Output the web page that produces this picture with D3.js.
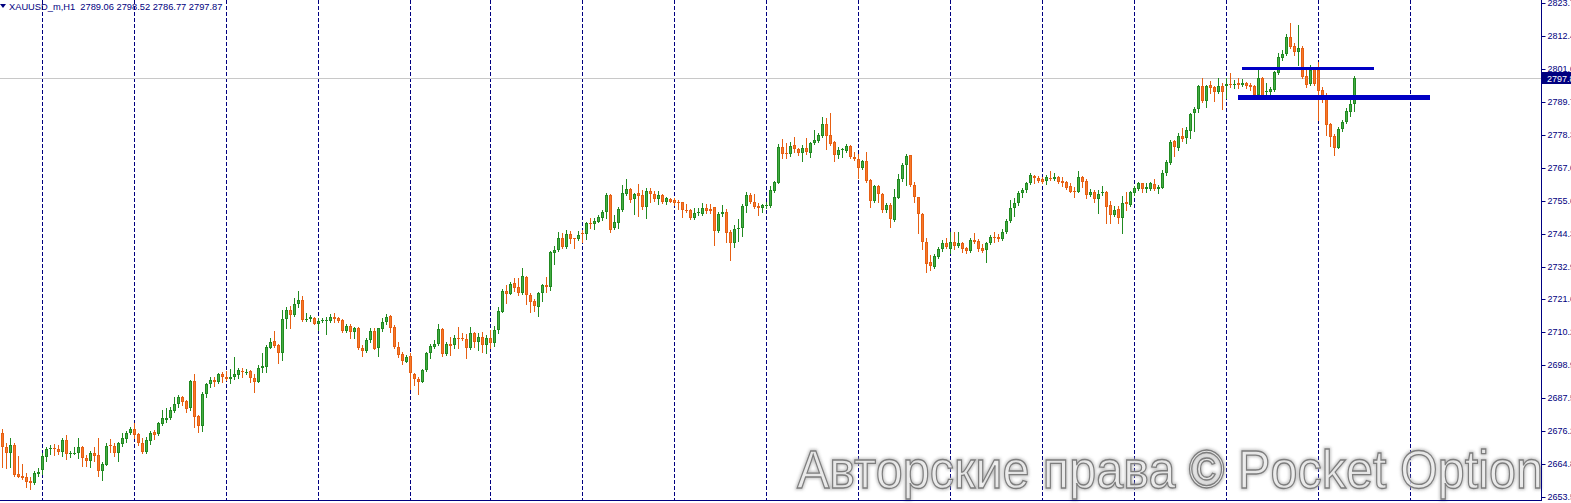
<!DOCTYPE html>
<html><head><meta charset="utf-8">
<script src="https://cdn.jsdelivr.net/npm/d3@7"></script>
<style>html,body{margin:0;padding:0;background:#fff;overflow:hidden}</style>
</head><body>
<svg id="c" width="1571" height="503" xmlns="http://www.w3.org/2000/svg"></svg>
<script>
// ---- data ----
const open = [2675.4,2670.8,2668.5,2671.4,2661.4,2660.8,2660.5,2659.0,2658.4,2661.4,
2662.8,2667.4,2670.0,2670.3,2670.0,2669.1,2673.1,2668.2,2668.5,2668.5,
2670.6,2667.0,2666.0,2668.8,2667.9,2662.5,2664.5,2671.4,2671.1,2668.5,
2671.7,2673.6,2675.7,2677.0,2675.2,2672.0,2669.1,2672.9,2676.0,2675.1,
2678.6,2680.0,2680.8,2683.2,2685.5,2688.1,2686.7,2684.0,2693.6,2681.4,
2678.0,2688.9,2692.3,2693.8,2693.2,2695.9,2695.0,2694.3,2694.7,2695.5,
2696.9,2696.3,2696.9,2694.6,2693.2,2697.8,2698.4,2705.0,2707.3,2705.9,
2703.2,2714.7,2717.9,2716.2,2719.9,2721.4,2714.6,2714.7,2715.3,2713.0,
2714.3,2714.5,2714.3,2715.4,2715.3,2714.5,2710.8,2712.4,2710.5,2711.6,
2705.0,2703.8,2707.6,2710.8,2704.7,2711.3,2713.9,2715.9,2712.0,2705.1,
2702.7,2700.1,2702.1,2695.8,2694.0,2693.2,2697.2,2703.0,2705.3,2706.1,
2711.3,2702.8,2706.4,2705.9,2708.4,2708.4,2707.9,2704.7,2709.9,2706.9,
2708.6,2705.9,2708.3,2706.6,2711.1,2717.4,2724.5,2723.6,2727.3,2725.8,
2723.7,2729.4,2723.1,2721.1,2719.1,2723.7,2726.6,2726.0,2737.7,2738.5,
2742.7,2739.7,2744.1,2742.7,2742.3,2744.4,2744.1,2747.8,2747.5,2748.4,
2749.8,2751.6,2757.6,2746.3,2748.1,2752.4,2758.0,2759.7,2756.1,2758.2,
2757.6,2753.6,2759.0,2757.9,2756.1,2757.6,2755.1,2756.1,2755.9,2755.3,
2755.1,2752.4,2752.4,2749.6,2751.3,2751.2,2753.0,2752.8,2753.4,2745.2,
2751.0,2751.6,2745.0,2740.9,2745.8,2746.1,2753.8,2757.6,2755.3,2753.8,
2753.3,2753.9,2753.9,2759.1,2761.9,2774.1,2772.0,2771.7,2774.9,2773.5,
2772.2,2773.7,2772.2,2775.4,2776.3,2778.1,2782.1,2778.3,2775.8,2771.4,
2773.1,2772.9,2774.5,2770.8,2770.0,2767.1,2769.4,2762.8,2755.6,2760.7,
2758.0,2752.4,2754.2,2749.0,2756.7,2763.0,2768.0,2771.4,2761.1,2756.8,
2751.1,2741.3,2734.4,2732.9,2736.3,2738.9,2740.9,2738.9,2741.3,2740.1,
2740.9,2739.2,2738.3,2742.1,2741.8,2739.5,2738.6,2740.9,2743.2,2743.0,
2742.3,2745.0,2748.7,2753.0,2754.8,2758.2,2759.4,2761.7,2764.3,2763.6,
2763.1,2762.5,2763.4,2763.1,2764.0,2762.6,2762.0,2760.8,2759.1,2758.8,
2764.0,2762.6,2757.6,2758.8,2756.1,2758.2,2758.8,2754.2,2750.7,2752.7,
2749.8,2755.1,2754.2,2758.2,2759.7,2761.7,2759.7,2759.7,2761.4,2759.7,
2760.2,2765.1,2768.8,2776.3,2773.7,2778.0,2777.2,2779.8,2785.8,2787.3,
2795.2,2790.2,2795.5,2794.8,2793.0,2795.4,2795.2,2795.9,2795.6,2796.2,
2795.6,2796.2,2795.6,2795.2,2792.1,2797.9,2793.0,2793.3,2793.9,2799.8,
2805.0,2806.2,2812.3,2809.0,2807.1,2808.5,2798.7,2795.9,2801.0,2800.8,
2793.9,2792.1,2782.1,2778.0,2774.0,2780.4,2782.7,2786.4,2789.06];

const high = [2676.9,2672.0,2673.7,2672.0,2667.6,2664.8,2661.6,2660.5,2662.3,2663.4,
2668.5,2670.8,2671.4,2671.7,2671.4,2673.7,2674.8,2669.4,2670.6,2673.7,
2671.0,2667.9,2669.4,2670.8,2673.7,2665.6,2672.0,2673.3,2672.0,2672.4,
2675.4,2676.2,2677.5,2678.9,2675.6,2673.7,2674.0,2676.3,2676.6,2679.4,
2683.5,2684.0,2684.4,2688.1,2688.5,2688.4,2686.9,2693.8,2695.8,2681.7,
2689.8,2692.9,2694.7,2694.7,2696.3,2696.7,2697.0,2697.5,2701.6,2697.8,
2697.8,2697.5,2697.2,2695.8,2699.0,2703.0,2705.9,2708.2,2710.7,2706.4,
2717.9,2719.1,2719.4,2722.0,2724.5,2722.8,2716.8,2716.2,2715.6,2715.1,
2715.1,2715.6,2716.5,2717.0,2715.6,2714.8,2713.0,2713.0,2712.0,2712.0,
2705.9,2708.4,2711.6,2711.6,2711.9,2715.1,2716.5,2716.2,2712.8,2707.0,
2703.6,2702.4,2703.0,2696.1,2694.9,2697.6,2703.6,2706.4,2707.6,2713.3,
2711.6,2707.0,2708.7,2709.3,2712.2,2709.9,2709.6,2712.2,2710.5,2710.0,
2710.4,2709.3,2711.1,2712.4,2719.1,2725.2,2726.6,2727.5,2728.9,2728.9,
2732.3,2729.8,2723.7,2721.7,2724.3,2727.1,2729.4,2738.3,2740.0,2744.7,
2744.4,2745.5,2745.2,2742.9,2745.2,2745.5,2748.4,2749.6,2749.6,2750.7,
2752.4,2758.2,2758.0,2750.7,2753.6,2761.1,2763.1,2759.9,2758.2,2761.3,
2759.3,2759.9,2759.9,2759.0,2759.0,2757.9,2757.0,2756.7,2756.7,2755.9,
2755.3,2754.5,2752.8,2753.0,2753.0,2755.0,2754.5,2754.5,2753.6,2751.6,
2754.2,2752.8,2745.5,2747.3,2749.3,2754.4,2758.5,2758.4,2757.9,2754.7,
2754.5,2755.1,2760.7,2762.5,2775.1,2776.9,2775.4,2776.0,2777.7,2774.0,
2774.9,2777.4,2776.0,2780.0,2778.9,2784.4,2784.1,2785.8,2776.3,2774.3,
2774.0,2775.1,2774.9,2772.6,2771.7,2769.7,2772.3,2763.1,2761.1,2761.1,
2758.2,2754.7,2754.7,2759.7,2764.8,2768.5,2771.7,2771.4,2762.0,2757.0,
2751.3,2742.7,2736.9,2737.2,2739.8,2742.1,2742.7,2744.7,2745.0,2744.7,
2741.5,2739.8,2742.7,2744.6,2742.4,2740.6,2741.3,2743.8,2744.7,2744.1,
2745.9,2749.2,2755.9,2756.5,2759.1,2759.9,2762.2,2765.1,2764.5,2764.2,
2764.0,2764.5,2765.9,2765.1,2764.2,2763.7,2762.5,2761.7,2760.5,2765.9,
2764.2,2763.0,2759.6,2759.4,2759.4,2760.7,2759.1,2755.7,2753.8,2753.8,
2757.3,2758.5,2759.1,2760.7,2762.1,2761.9,2761.7,2762.2,2763.1,2761.1,
2766.3,2769.7,2776.6,2776.6,2779.1,2780.6,2781.2,2785.8,2788.1,2795.6,
2797.9,2795.6,2797.0,2795.2,2797.9,2796.2,2797.9,2799.6,2797.3,2797.9,
2797.6,2796.7,2796.2,2795.6,2800.8,2798.5,2796.4,2795.0,2800.4,2806.7,
2807.7,2813.2,2816.9,2810.0,2816.3,2809.0,2800.8,2802.5,2801.9,2803.6,
2794.8,2792.7,2782.6,2778.7,2781.2,2783.5,2787.5,2790.4,2798.52];

const low = [2663.7,2663.3,2663.7,2660.7,2660.2,2659.6,2657.0,2656.1,2657.9,2660.7,
2661.4,2666.0,2668.3,2667.9,2668.2,2667.7,2666.5,2667.1,2668.3,2666.8,
2664.2,2664.1,2663.9,2666.0,2660.8,2659.3,2664.5,2669.1,2667.6,2666.0,
2671.0,2672.3,2675.2,2673.7,2671.4,2668.8,2668.5,2671.7,2673.4,2674.8,
2678.3,2679.4,2680.2,2682.9,2684.6,2685.2,2682.9,2683.5,2677.7,2676.0,
2676.3,2688.1,2691.3,2691.8,2692.9,2693.0,2693.8,2692.9,2694.0,2694.6,
2694.9,2695.9,2693.2,2689.5,2693.0,2696.7,2696.7,2704.7,2705.3,2699.8,
2700.7,2711.6,2711.6,2715.9,2719.1,2714.3,2714.3,2714.2,2713.0,2711.0,
2713.7,2709.6,2713.7,2713.9,2713.7,2710.5,2710.5,2708.2,2708.2,2704.4,
2702.2,2703.3,2707.0,2704.4,2702.2,2710.8,2713.0,2710.2,2704.7,2701.9,
2699.5,2699.9,2690.7,2692.1,2688.9,2693.0,2696.9,2701.5,2704.7,2705.9,
2702.1,2702.4,2702.4,2704.7,2704.7,2707.6,2701.5,2704.5,2705.3,2704.2,
2703.5,2703.1,2704.8,2705.5,2710.0,2717.1,2720.5,2723.4,2724.5,2723.1,
2723.5,2720.2,2717.4,2717.6,2716.0,2721.1,2724.0,2724.8,2734.0,2738.3,
2739.5,2739.5,2740.9,2739.5,2742.1,2741.5,2742.4,2746.4,2745.8,2748.2,
2749.0,2749.8,2744.7,2745.9,2746.3,2752.2,2757.6,2755.3,2751.0,2750.5,
2752.8,2749.8,2755.3,2755.6,2754.4,2754.7,2754.4,2755.1,2754.2,2752.8,
2750.1,2751.9,2749.2,2749.3,2750.9,2750.9,2751.3,2751.3,2740.4,2744.7,
2750.5,2741.3,2735.2,2739.8,2741.8,2743.6,2751.9,2754.7,2753.0,2750.9,
2751.6,2753.0,2753.6,2758.5,2761.6,2770.3,2770.5,2771.2,2772.3,2771.4,
2769.5,2771.7,2770.8,2775.2,2775.8,2777.7,2773.4,2774.9,2769.5,2770.3,
2770.6,2772.6,2770.3,2769.7,2763.4,2766.6,2762.0,2753.6,2755.1,2755.3,
2751.9,2751.9,2746.5,2748.8,2756.5,2762.5,2761.1,2760.8,2755.3,2744.6,
2739.0,2731.2,2731.7,2732.3,2735.8,2738.3,2739.2,2737.5,2739.0,2739.8,
2738.1,2737.5,2738.1,2740.9,2738.3,2737.8,2734.6,2740.6,2741.5,2741.8,
2742.1,2744.4,2748.4,2750.5,2754.2,2756.8,2758.8,2761.3,2761.9,2762.0,
2761.7,2761.4,2762.8,2762.8,2761.9,2760.8,2759.7,2758.5,2757.1,2758.5,
2760.3,2756.7,2757.3,2755.1,2751.5,2757.6,2748.1,2747.9,2750.4,2748.1,
2744.4,2752.5,2753.8,2757.6,2759.4,2758.5,2758.8,2759.4,2759.4,2758.2,
2759.9,2764.5,2768.2,2771.1,2773.2,2776.4,2775.7,2777.2,2779.8,2786.4,
2789.8,2788.1,2792.7,2790.2,2792.7,2787.2,2791.0,2795.0,2794.4,2794.7,
2795.4,2794.4,2793.9,2791.6,2791.8,2791.3,2791.8,2790.6,2793.5,2799.4,
2804.2,2805.9,2808.2,2805.9,2802.5,2797.9,2795.0,2795.6,2795.6,2783.5,
2789.8,2778.3,2774.5,2771.4,2773.7,2779.8,2782.4,2784.9,2786.77];

const close = [2670.6,2668.7,2671.4,2661.0,2660.5,2660.1,2658.7,2658.4,2661.6,2662.1,
2667.6,2669.9,2670.5,2669.9,2669.1,2673.1,2668.2,2668.7,2668.7,2670.6,
2666.8,2666.0,2668.8,2667.6,2662.5,2664.8,2671.1,2671.1,2668.5,2672.0,
2673.7,2675.6,2676.8,2674.9,2672.0,2669.1,2673.1,2675.7,2674.8,2678.9,
2680.6,2680.8,2683.5,2685.5,2687.8,2686.3,2683.8,2693.6,2681.2,2678.0,
2689.0,2692.4,2693.8,2693.2,2695.9,2695.0,2694.3,2694.7,2695.9,2697.2,
2696.4,2696.7,2694.4,2693.2,2697.8,2698.6,2705.3,2707.0,2705.6,2703.2,
2714.8,2717.9,2716.2,2720.0,2721.4,2714.5,2714.7,2715.5,2713.3,2714.2,
2714.5,2714.6,2715.6,2715.0,2714.2,2710.8,2712.5,2710.2,2711.6,2704.7,
2703.8,2707.6,2710.7,2704.5,2711.6,2713.9,2715.6,2711.9,2705.1,2702.4,
2700.5,2701.9,2696.1,2694.0,2693.2,2697.2,2703.0,2705.5,2706.1,2711.3,
2702.7,2706.4,2705.6,2708.4,2707.9,2707.8,2704.7,2709.9,2707.0,2708.6,
2705.9,2708.3,2706.6,2711.1,2717.6,2724.5,2723.6,2727.1,2725.7,2723.9,
2729.7,2723.1,2720.6,2719.4,2723.7,2726.6,2726.0,2737.8,2738.5,2742.7,
2739.8,2744.1,2742.3,2742.4,2743.8,2744.1,2747.8,2747.5,2748.7,2749.9,
2751.6,2757.6,2745.5,2748.2,2752.8,2758.2,2759.7,2755.9,2757.9,2757.4,
2753.6,2759.0,2757.9,2756.1,2757.6,2755.1,2756.5,2755.3,2754.7,2754.7,
2752.4,2752.3,2749.6,2751.3,2751.6,2753.0,2752.2,2752.1,2745.2,2751.0,
2751.6,2744.4,2740.9,2745.9,2746.1,2753.8,2757.6,2755.3,2753.6,2753.3,
2754.2,2754.2,2759.3,2762.0,2774.1,2771.8,2771.7,2774.6,2773.5,2772.2,
2773.7,2772.6,2775.7,2776.6,2778.3,2782.1,2778.1,2775.2,2771.4,2773.1,
2773.4,2774.5,2770.6,2770.0,2767.1,2769.4,2762.5,2755.6,2760.7,2757.9,
2752.4,2754.2,2749.2,2756.8,2763.1,2768.0,2771.1,2761.1,2756.8,2751.0,
2741.3,2734.0,2733.2,2736.7,2739.0,2741.2,2739.8,2741.3,2740.1,2740.9,
2738.9,2738.4,2742.1,2741.3,2739.0,2738.3,2740.9,2743.0,2742.7,2742.3,
2745.0,2748.7,2753.3,2754.8,2758.2,2759.4,2761.7,2764.4,2763.4,2762.5,
2762.2,2763.7,2763.1,2763.7,2762.2,2761.7,2760.2,2758.8,2759.0,2763.7,
2762.2,2757.6,2758.5,2756.1,2758.0,2758.5,2753.6,2750.7,2752.5,2749.8,
2755.0,2754.5,2758.5,2759.9,2761.7,2759.7,2760.3,2761.7,2759.7,2760.5,
2765.3,2768.9,2776.0,2774.1,2778.0,2776.9,2780.1,2785.5,2787.3,2795.2,
2790.1,2795.2,2794.7,2793.0,2795.4,2793.3,2795.9,2795.6,2795.9,2795.6,
2796.2,2795.2,2794.8,2792.1,2797.9,2791.8,2793.5,2794.2,2800.0,2805.1,
2806.3,2812.0,2808.6,2807.1,2808.5,2798.5,2795.6,2800.8,2795.9,2793.6,
2791.8,2781.8,2777.8,2773.7,2780.4,2782.7,2786.6,2788.9,2797.87];

const daySeparators = [10, 33, 56, 79, 102, 122, 145, 168, 191, 214, 237, 260, 283, 306, 329, 352];
const priceTicks = [2653.50, 2664.85, 2676.20, 2687.55, 2698.90, 2710.25, 2721.60, 2732.95,
                    2744.30, 2755.65, 2767.00, 2778.35, 2789.70, 2801.05, 2812.40, 2823.75];
const levelPrices = [2801.3, 2791.3];
const levelFrom = [310, 309];
const levelTo = [343, 357];
const headerText = "XAUUSD_m,H1  2789.06 2798.52 2786.77 2797.87";
const lastPrice = 2797.87;
const watermarkText = "Авторские права © Pocket Option";

// ---- drawing ----
const W = 1571, H = 503;
const plotRight = 1541, plotBottom = 500;
const svg = d3.select("#c");

const x = d3.scaleLinear().domain([0, 338]).range([2, 1354]);
const y = d3.scaleLinear().domain([2653.45, 2824.9]).range([497, 0]);

const defs = svg.append("defs");
const blur = defs.append("filter").attr("id", "wmBlur").attr("x", "-5%").attr("y", "-20%").attr("width", "110%").attr("height", "140%");
blur.append("feGaussianBlur").attr("stdDeviation", 1.6);

// day separators
svg.append("g").selectAll("line").data(daySeparators).join("line")
  .attr("x1", d => Math.round(x(d)) + 0.5).attr("x2", d => Math.round(x(d)) + 0.5)
  .attr("y1", 0).attr("y2", plotBottom)
  .attr("stroke", "#000080").attr("stroke-width", 1)
  .attr("stroke-dasharray", "4,2");

// current price line
svg.append("line")
  .attr("x1", 0).attr("x2", plotRight)
  .attr("y1", Math.round(y(lastPrice)) + 0.5).attr("y2", Math.round(y(lastPrice)) + 0.5)
  .attr("stroke", "#c8c8c8").attr("stroke-width", 1);

// candles
const candles = open.map((o, i) => ({ i, o, h: high[i], l: low[i], c: close[i] }));
const cg = svg.append("g").attr("shape-rendering", "crispEdges");
const bullDark = "#218a21", bullLight = "#44ad44", bearDark = "#e65f12", bearLight = "#f7782a";

cg.selectAll("line.wick").data(candles).join("line")
  .attr("class", "wick")
  .attr("x1", d => Math.round(x(d.i)) + 0.5).attr("x2", d => Math.round(x(d.i)) + 0.5)
  .attr("y1", d => Math.round(y(d.h))).attr("y2", d => Math.round(y(d.l)) + 1)
  .attr("stroke", d => d.c >= d.o ? bullDark : bearDark).attr("stroke-width", 1);

function bodyTop(d) { return Math.round(y(Math.max(d.o, d.c))); }
function bodyH(d) { return Math.max(1, Math.round(y(Math.min(d.o, d.c))) - bodyTop(d)); }

cg.selectAll("rect.body").data(candles).join("rect")
  .attr("class", "body")
  .attr("x", d => Math.round(x(d.i)) - 1).attr("width", 3)
  .attr("y", bodyTop).attr("height", bodyH)
  .attr("fill", d => d.c >= d.o ? bullDark : bearDark);

cg.selectAll("rect.inner").data(candles.filter(d => bodyH(d) > 2)).join("rect")
  .attr("class", "inner")
  .attr("x", d => Math.round(x(d.i))).attr("width", 1)
  .attr("y", d => bodyTop(d) + 1).attr("height", d => bodyH(d) - 2)
  .attr("fill", d => d.c >= d.o ? bullLight : bearLight);

// horizontal levels
const levelWidths = [3, 5];
svg.append("g").selectAll("line").data(levelPrices).join("line")
  .attr("x1", (d, k) => x(levelFrom[k])).attr("x2", (d, k) => x(levelTo[k]))
  .attr("y1", d => y(d)).attr("y2", d => y(d))
  .attr("stroke", "#0000c4").attr("stroke-width", (d, k) => levelWidths[k]);

// watermark
const wm = svg.append("g");
wm.append("text").attr("x", 797).attr("y", 488)
  .attr("font-family", "'Liberation Sans', Arial, sans-serif").attr("font-size", 54)
  .attr("textLength", 746).attr("lengthAdjust", "spacingAndGlyphs")
  .attr("fill", "none").attr("stroke", "#b0b0b0").attr("stroke-width", 3.5)
  .attr("filter", "url(#wmBlur)").attr("opacity", 0.8)
  .text(watermarkText);
wm.append("text").attr("x", 797).attr("y", 488)
  .attr("font-family", "'Liberation Sans', Arial, sans-serif").attr("font-size", 54)
  .attr("textLength", 746).attr("lengthAdjust", "spacingAndGlyphs")
  .attr("fill", "#ffffff").attr("fill-opacity", 0.55)
  .attr("stroke", "#7d7d7d").attr("stroke-width", 1.3)
  .text(watermarkText);

// axes frame
svg.append("line").attr("x1", plotRight + 0.5).attr("x2", plotRight + 0.5).attr("y1", 0).attr("y2", plotBottom + 1)
  .attr("stroke", "#000080").attr("stroke-width", 1);
svg.append("line").attr("x1", 0).attr("x2", plotRight + 1).attr("y1", plotBottom + 0.5).attr("y2", plotBottom + 0.5)
  .attr("stroke", "#000080").attr("stroke-width", 1);

// price axis
const axis = d3.axisRight(y).tickValues(priceTicks).tickSize(4).tickPadding(2).tickFormat(d3.format(".2f"));
const ag = svg.append("g").attr("transform", `translate(${plotRight + 0.5},0)`).call(axis);
ag.select(".domain").remove();
ag.selectAll(".tick line").attr("stroke", "#000080");
ag.selectAll(".tick text").attr("fill", "#000080")
  .attr("font-family", "'Liberation Sans', Arial, sans-serif").attr("font-size", 9);
ag.selectAll(".tick").attr("transform", d => `translate(0,${Math.round(y(d)) + 0.5})`);

// last price label
const ly = Math.round(y(lastPrice));
svg.append("rect").attr("x", plotRight + 1).attr("y", ly - 6).attr("width", W - plotRight).attr("height", 12).attr("fill", "#000080");
svg.append("text").attr("x", plotRight + 6).attr("y", ly + 3.5)
  .attr("font-family", "'Liberation Sans', Arial, sans-serif").attr("font-size", 9)
  .attr("fill", "#ffffff").text(d3.format(".2f")(lastPrice));

// header
svg.append("path").attr("d", "M0,4 L6,4 L3,8 Z").attr("fill", "#000080");
svg.append("text").attr("x", 9).attr("y", 10)
  .attr("font-family", "'Liberation Sans', Arial, sans-serif").attr("font-size", 9.3)
  .attr("fill", "#000080").style("white-space", "pre")
  .text(headerText);
</script>
</body></html>
